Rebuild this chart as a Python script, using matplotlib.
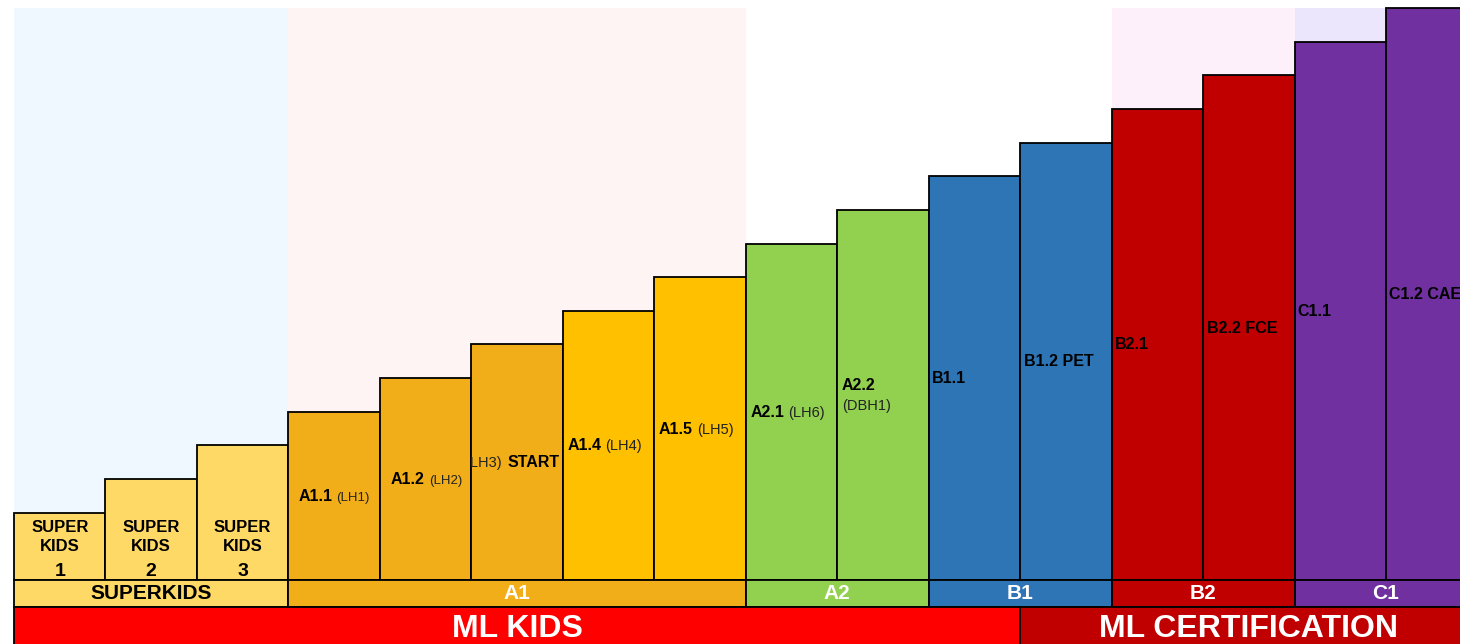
import matplotlib
matplotlib.use('Agg')
import matplotlib.pyplot as plt

plt.rcParams['font.family'] = ['Liberation Sans', 'DejaVu Sans']

# levels, one bar each
heights = [2, 3, 4, 5, 6, 7, 8, 9, 10, 11, 12, 13, 14, 15, 16, 17]
bar_colors = (['#FFD966'] * 3 + ['#F2AE18'] * 3 + ['#FFC000'] * 2 + ['#92D050'] * 2
              + ['#2E75B6'] * 2 + ['#C00000'] * 2 + ['#7030A0'] * 2)
bold_labels = ['', '', '', 'A1.1', 'A1.2', 'START', 'A1.4', 'A1.5', 'A2.1', 'A2.2',
               'B1.1', 'B1.2 PET', 'B2.1', 'B2.2 FCE', 'C1.1', 'C1.2 CAE']
sub_labels = ['', '', '', '(LH1)', '(LH2)', '(LH3)', '(LH4)', '(LH5)', '(LH6)', '(DBH1)',
              '', '', '', '', '', '']
kids_numbers = ['1', '2', '3']

# level groups (row under the bars)
groups = ['SUPERKIDS', 'A1', 'A2', 'B1', 'B2', 'C1']
group_sizes = [3, 5, 2, 2, 2, 2]
group_colors = ['#FFD966', '#F2AE18', '#92D050', '#2E75B6', '#C00000', '#7030A0']
group_text = ['black', 'white', 'white', 'white', 'white', 'white']
group_tints = ['#EFF7FF', '#FFF4F4', 'white', 'white', '#FDF0FB', '#ECE6FC']

# programmes (bottom row)
programs = ['ML KIDS', 'ML CERTIFICATION']
program_sizes = [11, 5]
program_colors = ['#FF0000', '#C00000']

# layout
pads = [0, 0, 0, 0.11, 0.12, 0.39, 0.05, 0.05, 0.05, 0.05, 0.04, 0.04, 0.04, 0.04, 0.03, 0.03]
sub_sizes = [0, 0, 0, 9.5, 9.5, 10.5, 10.5, 10.5, 10.5, 10.5, 0, 0, 0, 0, 0, 0]
xu, yu = 91.47, 33.65

fig = plt.figure(figsize=(14.6, 6.44), dpi=100)
ax = fig.add_axes([0, 0, 1, 1])
ax.set_xlim(-14 / xu, 1446 / xu)
ax.set_ylim(-64 / yu, 580 / yu)
ax.axis('off')

x = list(range(len(heights)))
row_h = 27 / yu

# background tints per group
start = 0
for n, c in zip(group_sizes, group_tints):
    ax.bar(start, max(heights), width=n, align='edge', color=c, zorder=0)
    start += n

bars = ax.bar(x, heights, width=1, align='edge', color=bar_colors,
              edgecolor='black', linewidth=1.3, zorder=2)

# group row
start = 0
for g, n, c, tc in zip(groups, group_sizes, group_colors, group_text):
    ax.bar(start, -row_h, width=n, align='edge', color=c, edgecolor='black',
           linewidth=1.3, zorder=2)
    ax.text(start + n / 2, -row_h / 2, g, ha='center', va='center', color=tc,
            fontsize=15, fontweight='bold', zorder=5)
    start += n

# programme row
start = 0
for p, n, c in zip(programs, program_sizes, program_colors):
    ax.bar(start, -2, bottom=-row_h, width=n, align='edge', color=c,
           edgecolor='black', linewidth=1.3, zorder=2)
    ax.text(start + n / 2, -row_h - 0.66, p, ha='center', va='center', color='white',
            fontsize=23, fontweight='bold', zorder=5)
    start += n

# superkids labels
for i, num in enumerate(kids_numbers):
    ax.text(i + 0.5, 1.28, 'SUPER\nKIDS', ha='center', va='center', fontsize=12,
            fontweight='bold', linespacing=1.4, zorder=5)
    ax.text(i + 0.5, 0.26, num, ha='center', va='center', fontsize=14,
            fontweight='bold', zorder=5)

# other bar labels
renderer = fig.canvas.get_renderer()
inv = ax.transData.inverted()
for i, (b, s) in enumerate(zip(bold_labels, sub_labels)):
    if not b:
        continue
    h = heights[i]
    base = h / 2 - 0.15
    if b == 'A2.2':
        base = h / 2 + 0.15
    t = ax.text(i + pads[i], base, b, ha='left', va='baseline', fontsize=11.5,
                fontweight='bold', zorder=5, clip_on=True)
    t.set_clip_path(bars[i])
    if not s:
        continue
    bb = t.get_window_extent(renderer)
    if b == 'A2.2':
        st = ax.text(i + pads[i], base - 0.6, s, ha='left', va='baseline',
                     fontsize=sub_sizes[i], color='#222222', zorder=5, clip_on=True)
    elif b == 'START':
        x0 = inv.transform((bb.x0 - 5, 0))[0]
        st = ax.text(x0, base, s, ha='right', va='baseline',
                     fontsize=sub_sizes[i], color='#222222', zorder=5, clip_on=True)
    else:
        x1 = inv.transform((bb.x1 + 4, 0))[0]
        st = ax.text(x1, base, s, ha='left', va='baseline',
                     fontsize=sub_sizes[i], color='#222222', zorder=5, clip_on=True)
    st.set_clip_path(bars[i])

fig.savefig('out.png', dpi=100)
